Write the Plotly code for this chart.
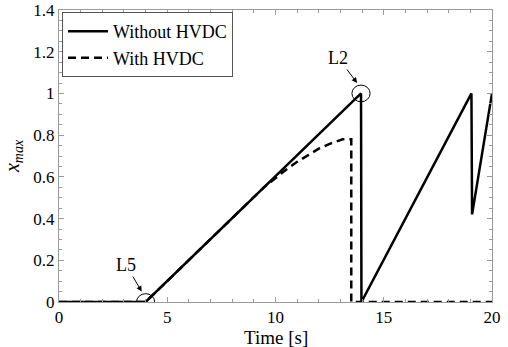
import plotly.graph_objects as go

# Time series of x_max for the two configurations
t_without = [0, 4.0, 13.95, 13.97, 19.05, 19.08, 20]
x_without = [0, 0, 1.0, 0, 1.0, 0.42, 1.0]

t_with = [0, 4.0, 9.5, 10.0, 10.5, 11.0, 11.5, 12.0, 12.5, 13.0, 13.1, 13.5, 13.5, 20]
x_with = [0, 0, 0.553, 0.595, 0.635, 0.672, 0.705, 0.735, 0.758, 0.775, 0.78, 0.78, 0, 0]

# Marked events: (label, time, value, label time, label value)
events = [("L5", 4.0, 0.0, 3.1, 0.177), ("L2", 13.95, 1.0, 12.9, 1.17)]

x_ticks = [0, 5, 10, 15, 20]
y_ticks = [0, 0.2, 0.4, 0.6, 0.8, 1, 1.2, 1.4]
y_tick_text = ["0", "0.2", "0.4", "0.6", "0.8", "1", "1.2", "1.4"]

serif = "Liberation Serif"
frame = "#9a9a9a"

fig = go.Figure()
fig.add_trace(go.Scatter(x=t_without, y=x_without, mode="lines", name="Without HVDC",
                         line=dict(color="black", width=2.5)))
fig.add_trace(go.Scatter(x=t_with, y=x_with, mode="lines", name="With HVDC",
                         line=dict(color="black", width=2.5, dash="8px,5px")))

for label, tx, vy, lx, ly in events:
    # small ellipse around the event point
    rx, ry = 0.42, 0.04
    fig.add_shape(type="circle", xref="x", yref="y",
                  x0=tx - rx, x1=tx + rx, y0=vy - ry, y1=vy + ry,
                  line=dict(color="black", width=1))
    fig.add_annotation(x=tx - 0.18, y=vy + 0.05, ax=lx, ay=ly, axref="x", ayref="y",
                       xref="x", yref="y", text=label, showarrow=True,
                       arrowhead=2, arrowsize=1.1, arrowwidth=1, arrowcolor="black",
                       font=dict(size=18))

# x-axis title placed just under the tick labels
fig.add_annotation(x=0.5, y=-0.122, xref="paper", yref="paper", text="Time [s]",
                   showarrow=False, xanchor="center", yanchor="middle", font=dict(size=19))

axis_common = dict(showline=True, mirror="ticks", linecolor=frame, linewidth=1,
                   ticks="inside", tickcolor=frame, ticklen=5, showgrid=False,
                   zeroline=False, automargin=False, tickfont=dict(size=17))

fig.update_xaxes(range=[0, 20], tickvals=x_ticks, ticklabelstandoff=0,
                 minor=dict(dtick=1, ticks="inside", ticklen=3, tickcolor=frame, showgrid=False),
                 **axis_common)
fig.update_yaxes(range=[0, 1.4], tickvals=y_ticks, ticktext=y_tick_text,
                 minor=dict(dtick=0.05, ticks="inside", ticklen=3, tickcolor=frame, showgrid=False),
                 title=dict(text="<i>x</i><sub><i>max</i></sub>", font=dict(size=20), standoff=8),
                 **axis_common)

fig.update_layout(
    width=508, height=347,
    margin=dict(l=59, r=16, t=10, b=45),
    font=dict(family=serif, color="black", size=17),
    plot_bgcolor="white", paper_bgcolor="white",
    showlegend=True,
    legend=dict(x=0.007, y=0.993, xanchor="left", yanchor="top",
                bgcolor="white", bordercolor="#555555", borderwidth=1,
                font=dict(size=18), tracegroupgap=0, itemwidth=40),
)

fig.write_html("out.html")
